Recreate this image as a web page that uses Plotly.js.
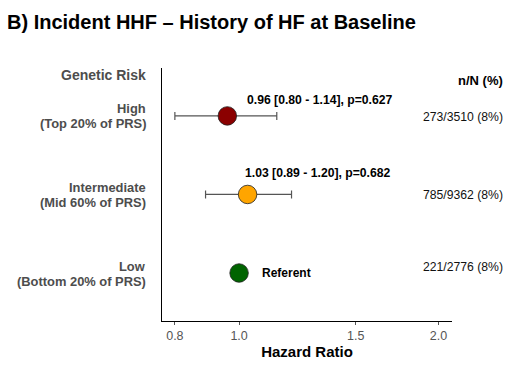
<!DOCTYPE html>
<html>
<head>
<meta charset="utf-8">
<script src="https://cdn.plot.ly/plotly-3.0.1.min.js"></script>
<style>html,body{margin:0;padding:0;background:#fff;}#chart{width:515px;height:365px;}</style>
</head>
<body>
<div id="chart"></div>
<script>
const groups = ["High", "Intermediate", "Low"];
const groupSub = ["(Top 20% of PRS)", "(Mid 60% of PRS)", "(Bottom 20% of PRS)"];
const yPos = [3, 2, 1];
const hr = [0.96, 1.03, 1.00];
const ciLow = [0.80, 0.89, null];
const ciHigh = [1.14, 1.20, null];
const pValues = ["0.627", "0.682", null];
const nN = ["273/3510 (8%)", "785/9362 (8%)", "221/2776 (8%)"];
const colors = ["#8B0000", "#FFA500", "#006400"];
const tickVals = [0.8, 1.0, 1.5, 2.0];
const tickText = ["0.8", "1.0", "1.5", "2.0"];
const refValue = 1.0;

const FONT = "'Liberation Sans', Arial, Helvetica, sans-serif";
const GRAY = "#4d4d4d";

const traces = [];
for (let i = 0; i < groups.length; i++) {
  if (ciLow[i] !== null) {
    traces.push({
      type: "scatter", mode: "markers",
      x: [hr[i]], y: [yPos[i]],
      marker: {size: 1, color: "rgba(0,0,0,0)"},
      error_x: {type: "data", symmetric: false,
        array: [ciHigh[i] - hr[i]], arrayminus: [hr[i] - ciLow[i]],
        color: "#555", thickness: 1.2, width: 4},
      hoverinfo: "skip", showlegend: false
    });
  }
}
for (let i = 0; i < groups.length; i++) {
  traces.push({
    type: "scatter", mode: "markers", x: [hr[i]], y: [yPos[i]],
    marker: {size: 18.5, color: colors[i], line: {color: "#222", width: 0.8}},
    hoverinfo: "skip", showlegend: false
  });
}

const annotations = [];
annotations.push({xref: "paper", yref: "paper", x: 0, y: 1, xanchor: "right", yanchor: "middle",
  xshift: -14, yshift: -7, text: "<b>Genetic Risk</b>", showarrow: false,
  font: {family: FONT, size: 14, color: GRAY}});
annotations.push({xref: "paper", yref: "paper", x: 1, y: 1, xanchor: "right", yanchor: "middle",
  xshift: 53, yshift: -12, text: "<b>n/N (%)</b>", showarrow: false,
  font: {family: FONT, size: 13, color: "#000"}});
annotations.push({xref: "paper", yref: "paper", x: 0, y: 1.18, xanchor: "left", yanchor: "middle",
  xshift: -157, text: "<b>B) Incident HHF – History of HF at Baseline</b>", showarrow: false,
  font: {family: FONT, size: 20, color: "#000"}});

const estShift = [16, 21];
const estX = [0.286, 0.279];
for (let i = 0; i < groups.length; i++) {
  annotations.push({xref: "paper", yref: "y", x: 0, y: yPos[i], xanchor: "right", yanchor: "middle",
    xshift: -14, yshift: 7, text: "<b>" + groups[i] + "</b>", showarrow: false, align: "right",
    font: {family: FONT, size: 12.9, color: GRAY}});
  annotations.push({xref: "paper", yref: "y", x: 0, y: yPos[i], xanchor: "right", yanchor: "middle",
    xshift: -14, yshift: -8, text: "<b>" + groupSub[i] + "</b>", showarrow: false, align: "right",
    font: {family: FONT, size: 12.9, color: GRAY}});
  annotations.push({xref: "paper", yref: "y", x: 1, y: yPos[i], xanchor: "right", yanchor: "middle",
    xshift: 53, yshift: i === 2 ? 6 : -1, text: nN[i], showarrow: false,
    font: {family: FONT, size: 12.2, color: "#111"}});
  if (pValues[i] !== null) {
    annotations.push({xref: "paper", yref: "y", x: estX[i], y: yPos[i], xanchor: "left", yanchor: "middle",
      yshift: estShift[i],
      text: "<b>" + hr[i].toFixed(2) + " [" + ciLow[i].toFixed(2) + " - " + ciHigh[i].toFixed(2) + "], p=" + pValues[i] + "</b>",
      showarrow: false, font: {family: FONT, size: 12.2, color: "#000"}});
  } else {
    annotations.push({xref: "x", yref: "y", x: Math.log10(hr[i]), y: yPos[i], xanchor: "left", yanchor: "middle",
      xshift: 21, text: "<b>Referent</b>", showarrow: false, font: {family: FONT, size: 12, color: "#000"}});
  }
}

const layout = {
  width: 515, height: 365,
  margin: {l: 162, r: 63, t: 68, b: 44},
  paper_bgcolor: "#fff", plot_bgcolor: "#fff",
  showlegend: false,
  font: {family: FONT},
  xaxis: {
    type: "log", range: [Math.log10(0.765), Math.log10(2.096)],
    tickvals: tickVals, ticktext: tickText,
    ticks: "outside", ticklen: 3, tickcolor: "#555", tickwidth: 1,
    tickfont: {family: FONT, size: 12.5, color: "#555"},
    showgrid: false, zeroline: false,
    showline: true, linecolor: "#000", linewidth: 1.2,
    title: {text: "<b>Hazard Ratio</b>", font: {family: FONT, size: 15, color: "#000"}, standoff: 4}
  },
  yaxis: {
    range: [0.389, 3.61], showticklabels: false, ticks: "",
    showgrid: false, zeroline: false,
    showline: true, linecolor: "#000", linewidth: 1.2
  },
  shapes: [{type: "line", xref: "x", yref: "paper", x0: Math.log10(refValue), x1: Math.log10(refValue),
    y0: 0, y1: 1, line: {color: "#444", width: 1.4, dash: "4px,3px"}, layer: "below"}],
  annotations: annotations
};

Plotly.newPlot("chart", traces, layout, {displayModeBar: false, staticPlot: true});
</script>
</body>
</html>
